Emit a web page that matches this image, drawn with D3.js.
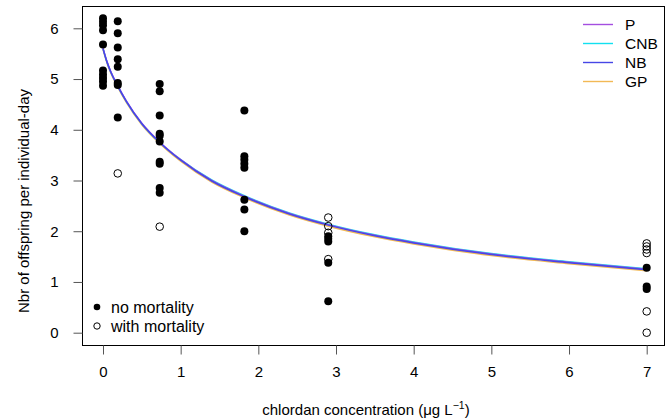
<!DOCTYPE html>
<html>
<head>
<meta charset="utf-8">
<script src="https://cdn.jsdelivr.net/npm/d3@7"></script>
<style>
  body { margin: 0; background: #fff; }
  svg { display: block; font-family: "Liberation Sans", Arial, sans-serif; }
</style>
</head>
<body>
<svg width="665" height="419"></svg>
<script>
// concentrations tested (x) and observations per concentration
const concentrations = [0, 0.19, 0.73, 1.82, 2.9, 7];
const noMortality = [
  [6.2, 6.13, 6.06, 5.96, 5.68, 5.17, 5.09, 5.02, 4.95, 4.87],
  [6.14, 5.9, 5.62, 5.39, 5.24, 4.92, 4.88, 4.24],
  [4.9, 4.76, 4.28, 3.92, 3.88, 3.77, 3.37, 3.33, 2.85, 2.76],
  [4.38, 3.48, 3.41, 3.33, 3.25, 2.62, 2.43, 2.0],
  [1.9, 1.85, 1.8, 1.38, 0.62],
  [1.28, 0.91, 0.86]
];
const withMortality = [
  [], [3.14], [2.09], [], [2.27, 2.1, 1.97, 1.45], [1.76, 1.7, 1.64, 1.57, 0.42, 0.0]
];

// fitted curves
const curveX = [0, 0.05, 0.1, 0.19, 0.3, 0.5, 0.73, 1, 1.4, 1.82, 2.4, 2.9, 3.5, 4, 5, 6, 7];
const curveP   = [5.61, 5.35, 5.15, 4.87, 4.57, 4.13, 3.76, 3.41, 3.0, 2.69, 2.35, 2.13, 1.92, 1.78, 1.55, 1.39, 1.25];
const curveCNB = [5.6, 5.34, 5.14, 4.86, 4.56, 4.12, 3.75, 3.41, 3.01, 2.7, 2.36, 2.14, 1.93, 1.79, 1.56, 1.4, 1.26];
const curveNB  = [5.6, 5.34, 5.14, 4.86, 4.56, 4.12, 3.75, 3.4, 2.99, 2.68, 2.34, 2.12, 1.91, 1.77, 1.54, 1.38, 1.24];
const curveGP  = [5.58, 5.32, 5.12, 4.84, 4.54, 4.1, 3.73, 3.38, 2.97, 2.66, 2.32, 2.1, 1.89, 1.75, 1.52, 1.36, 1.22];
const seriesNames = ["P", "CNB", "NB", "GP"];
const seriesColors = ["#a44ee0", "#12e0f0", "#4646e6", "#f2b955"];

const xTicks = [0, 1, 2, 3, 4, 5, 6, 7];
const yTicks = [0, 1, 2, 3, 4, 5, 6];

const svg = d3.select("svg");
const box = { left: 82, right: 664, top: 6, bottom: 345 };

const x = d3.scaleLinear().domain([0, 7]).range([103, 646.7]);
const y = d3.scaleLinear().domain([0, 6]).range([332.7, 28.3]);

// plot box
svg.append("rect")
  .attr("x", box.left + 0.5).attr("y", box.top + 0.5)
  .attr("width", box.right - box.left).attr("height", box.bottom - box.top)
  .attr("fill", "none").attr("stroke", "#000").attr("stroke-width", 1);

// axes
const xAxis = svg.append("g")
  .attr("transform", `translate(0,${box.bottom + 0.5})`)
  .call(d3.axisBottom(x).tickValues(xTicks).tickSize(9).tickPadding(12).tickFormat(d3.format("d")));
const yAxis = svg.append("g")
  .attr("transform", `translate(${box.left + 0.5},0)`)
  .call(d3.axisLeft(y).tickValues(yTicks).tickSize(9).tickPadding(15).tickFormat(d3.format("d")));
[xAxis, yAxis].forEach(g => {
  g.select(".domain").remove();
  g.selectAll(".tick line").attr("stroke", "#555");
  g.selectAll(".tick text").attr("fill", "#000").style("font-size", "15px")
    .style("font-family", "Liberation Sans, Arial, sans-serif");
});

// axis titles
const xt = svg.append("text")
  .attr("x", 366).attr("y", 415)
  .attr("text-anchor", "middle").style("font-size", "15px");
xt.append("tspan").text("chlordan concentration (\u03bcg L");
xt.append("tspan").attr("dy", -6).style("font-size", "10.5px").text("\u22121");
xt.append("tspan").attr("dy", 6).text(")");

svg.append("text")
  .attr("transform", "translate(29,201) rotate(-90)")
  .attr("text-anchor", "middle").style("font-size", "15px")
  .text("Nbr of offspring per individual-day");

// curves (GP underneath, NB on top)
const curves = [curveP, curveCNB, curveNB, curveGP];
const drawOrder = [3, 1, 0, 2];
const line = d3.line()
  .x((d, i) => x(curveX[i]))
  .y(d => y(d))
  .curve(d3.curveMonotoneX);
svg.append("g").selectAll("path")
  .data(drawOrder)
  .enter()
  .append("path")
  .attr("d", k => line(curves[k]))
  .attr("fill", "none")
  .attr("stroke", k => seriesColors[k])
  .attr("stroke-width", 1.5);

// points
const filled = concentrations.flatMap((c, i) => noMortality[i].map(v => [c, v]));
const hollow = concentrations.flatMap((c, i) => withMortality[i].map(v => [c, v]));
svg.append("g").selectAll("circle")
  .data(filled)
  .enter()
  .append("circle")
  .attr("cx", d => x(d[0])).attr("cy", d => y(d[1]))
  .attr("r", 4).attr("fill", "#000");
svg.append("g").selectAll("circle")
  .data(hollow)
  .enter()
  .append("circle")
  .attr("cx", d => x(d[0])).attr("cy", d => y(d[1]))
  .attr("r", 3.8).attr("fill", "none").attr("stroke", "#000").attr("stroke-width", 1);

// legend top right
const leg = svg.append("g");
seriesNames.forEach((name, i) => {
  const yy = 24.5 + i * 19;
  leg.append("line")
    .attr("x1", 583).attr("x2", 613).attr("y1", yy).attr("y2", yy)
    .attr("stroke", seriesColors[i]).attr("stroke-width", 1.4);
  leg.append("text")
    .attr("x", 625).attr("y", yy + 5.5)
    .style("font-size", "15.5px").text(name);
});

// legend bottom left
const leg2 = svg.append("g");
leg2.append("circle").attr("cx", 97).attr("cy", 307).attr("r", 3.3).attr("fill", "#000");
leg2.append("circle").attr("cx", 97).attr("cy", 326).attr("r", 3.2)
  .attr("fill", "none").attr("stroke", "#000");
leg2.append("text").attr("x", 111).attr("y", 312.5).style("font-size", "16px").text("no mortality");
leg2.append("text").attr("x", 111).attr("y", 331.5).style("font-size", "16px").text("with mortality");
</script>
</body>
</html>
